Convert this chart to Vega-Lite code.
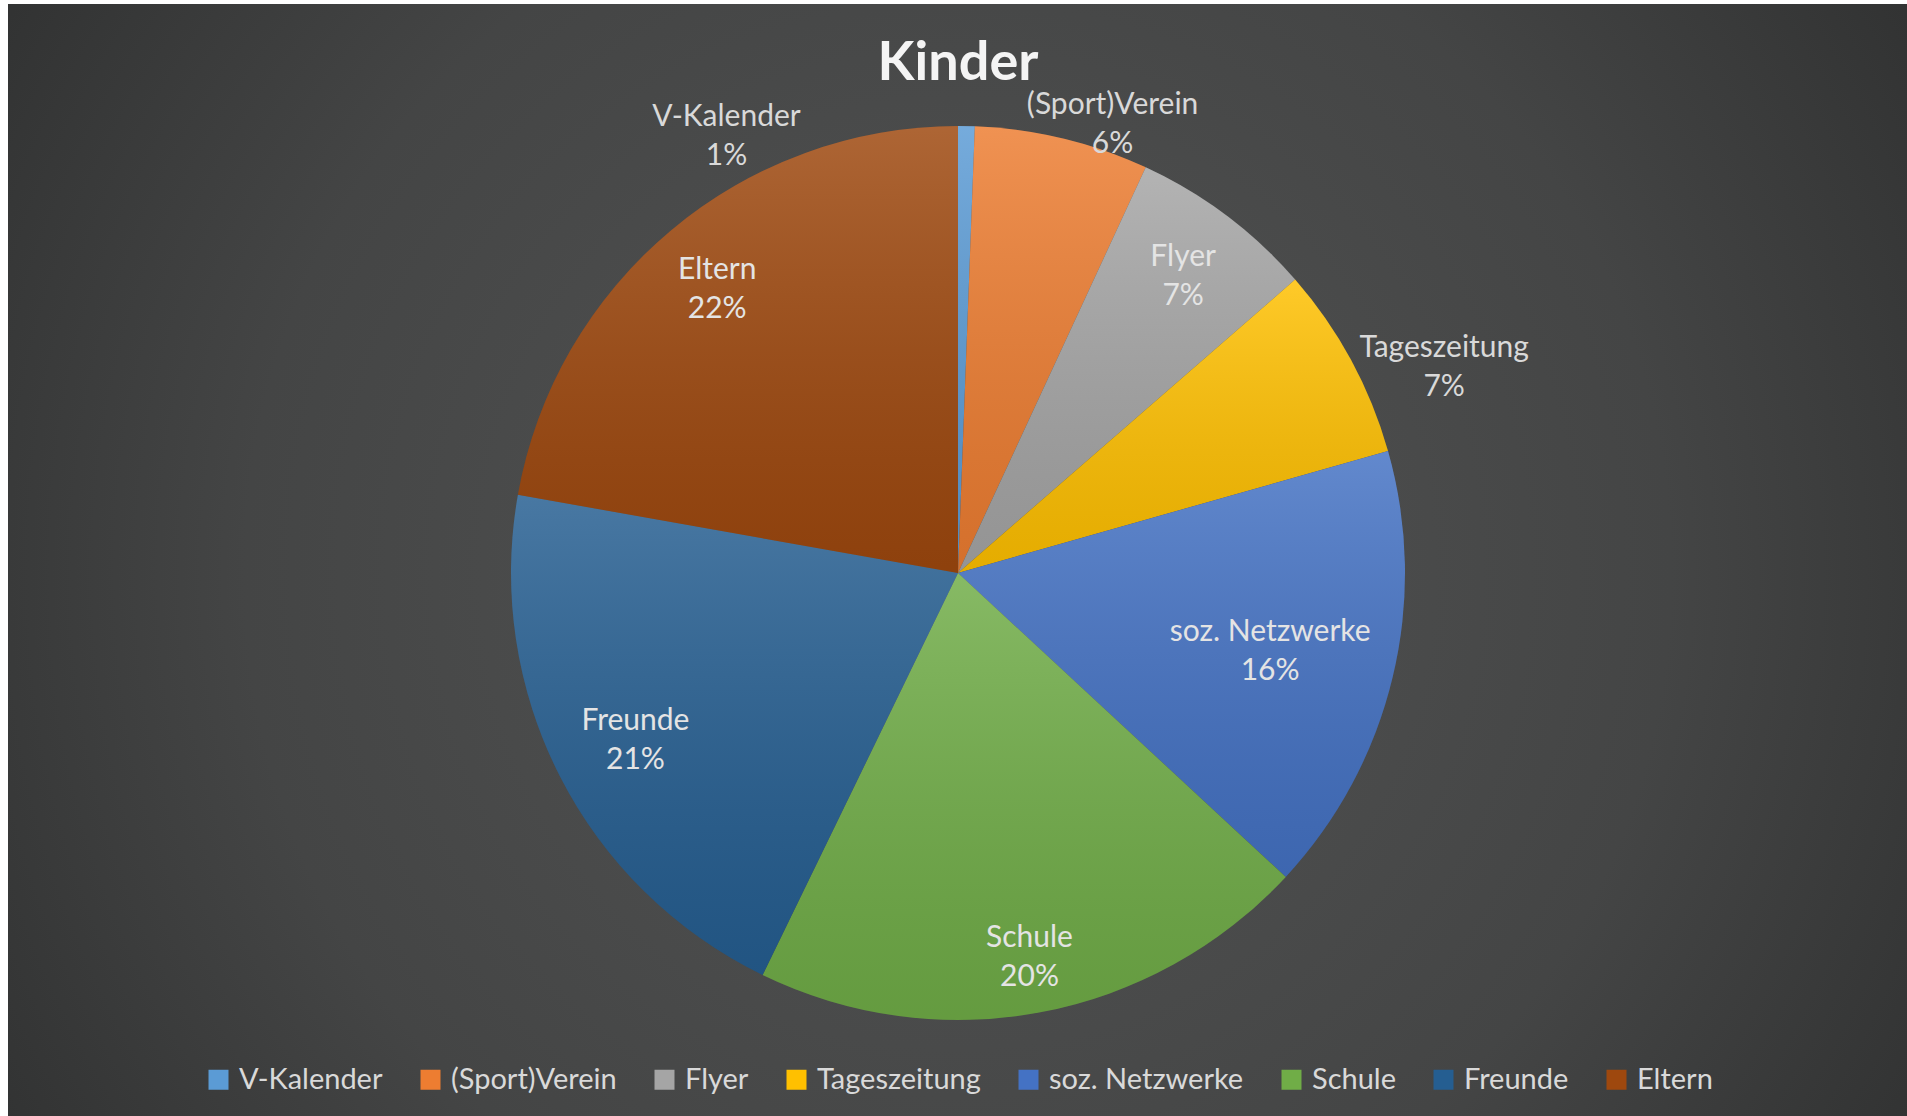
{
  "$schema": "https://vega.github.io/schema/vega-lite/v6.json",
  "width": 1900,
  "height": 1138,
  "autosize": "none",
  "padding": {"left": 8, "top": 4, "right": 0, "bottom": 0},
  "background": "#ffffff",
  "view": {
    "stroke": null,
    "fill": {"gradient": "radial", "x1": 0.5, "y1": 0.5, "r1": 0, "x2": 0.5, "y2": 0.5, "r2": 0.75,
      "stops": [{"offset": 0, "color": "#535454"}, {"offset": 0.5, "color": "#444545"}, {"offset": 1, "color": "#232424"}]}
  },
  "title": {"text": "Kinder", "font": "Lato", "fontSize": 54, "fontWeight": "bold", "color": "#f4f4f4", "offset": -87, "anchor": "middle"},
  "data": {"values": [
    {"i": 1, "cat": "V-Kalender", "v": 0.6},
    {"i": 2, "cat": "(Sport)Verein", "v": 6.3},
    {"i": 3, "cat": "Flyer", "v": 6.7},
    {"i": 4, "cat": "Tageszeitung", "v": 7.0},
    {"i": 5, "cat": "soz. Netzwerke", "v": 16.3},
    {"i": 6, "cat": "Schule", "v": 20.3},
    {"i": 7, "cat": "Freunde", "v": 20.6},
    {"i": 8, "cat": "Eltern", "v": 22.2}
  ]},
  "transform": [{"calculate": "datum.cat + '\\n' + format(datum.v / 100, '.0%')", "as": "label"}],
  "encoding": {
    "theta": {"field": "v", "type": "quantitative", "stack": true},
    "order": {"field": "i", "type": "quantitative"}
  },
  "layer": [
    {
      "mark": {"type": "arc", "outerRadius": 447},
      "encoding": {
        "color": {
          "field": "cat", "type": "nominal",
          "scale": {
            "domain": ["V-Kalender", "(Sport)Verein", "Flyer", "Tageszeitung", "soz. Netzwerke", "Schule", "Freunde", "Eltern"],
            "range": ["#5B9BD5", "#ED7D31", "#A5A5A5", "#FFC000", "#4472C4", "#70AD47", "#255E91", "#9E480E"]
          },
          "legend": {
            "title": null, "orient": "bottom", "direction": "horizontal", "offset": -77,
            "symbolType": "square", "symbolSize": 400, "symbolStrokeWidth": 0,
            "labelFont": "Lato", "labelFontSize": 29, "labelColor": "#d9d9d9",
            "labelOffset": 6, "columnPadding": 33, "padding": 0, "labelLimit": 300
          }
        }
      }
    },
    {
      "mark": {"type": "arc", "outerRadius": 447, "fill": {"gradient": "linear", "x1": 0, "y1": 0, "x2": 0, "y2": 1, "stops": [{"offset": 0, "color": "rgba(255,255,255,0.16)"}, {"offset": 1, "color": "rgba(0,0,0,0.10)"}]}}
    },
    {
      "mark": {"type": "text", "radius": 375, "dy": -16, "font": "Lato", "fontSize": 30, "color": "#e4e4e4", "lineBreak": "\n", "lineHeight": 39, "align": "center", "baseline": "middle"},
      "encoding": {"text": {"condition": {"test": "datum.cat == 'Eltern' || datum.cat == 'Flyer'", "field": "label"}, "value": ""}}
    },
    {
      "mark": {"type": "text", "radius": 362, "dy": -16, "font": "Lato", "fontSize": 30, "color": "#e4e4e4", "lineBreak": "\n", "lineHeight": 39, "align": "center", "baseline": "middle"},
      "encoding": {"text": {"condition": {"test": "datum.cat == 'Freunde'", "field": "label"}, "value": ""}}
    },
    {
      "mark": {"type": "text", "radius": 388, "dy": -16, "font": "Lato", "fontSize": 30, "color": "#e4e4e4", "lineBreak": "\n", "lineHeight": 39, "align": "center", "baseline": "middle"},
      "encoding": {"text": {"condition": {"test": "datum.cat == 'Schule'", "field": "label"}, "value": ""}}
    },
    {
      "mark": {"type": "text", "radius": 321, "dy": -16, "font": "Lato", "fontSize": 30, "color": "#e4e4e4", "lineBreak": "\n", "lineHeight": 39, "align": "center", "baseline": "middle"},
      "encoding": {"text": {"condition": {"test": "datum.cat == 'soz. Netzwerke'", "field": "label"}, "value": ""}}
    },
    {
      "mark": {"type": "text", "radius": 529, "dx": 21, "dy": 27, "font": "Lato", "fontSize": 30, "color": "#d9d9d9", "lineBreak": "\n", "lineHeight": 39, "align": "center", "baseline": "middle"},
      "encoding": {"text": {"condition": {"test": "datum.cat == 'Tageszeitung'", "field": "label"}, "value": ""}}
    },
    {
      "mark": {"type": "text", "radius": 478, "dx": 43, "dy": -3, "font": "Lato", "fontSize": 30, "color": "#d9d9d9", "lineBreak": "\n", "lineHeight": 39, "align": "center", "baseline": "middle"},
      "encoding": {"text": {"condition": {"test": "datum.cat == '(Sport)Verein'", "field": "label"}, "value": ""}}
    },
    {
      "mark": {"type": "text", "radius": 450, "dx": -240, "dy": -6, "font": "Lato", "fontSize": 30, "color": "#d9d9d9", "lineBreak": "\n", "lineHeight": 39, "align": "center", "baseline": "middle"},
      "encoding": {"text": {"condition": {"test": "datum.cat == 'V-Kalender'", "field": "label"}, "value": ""}}
    }
  ],
  "config": {
    "view": {"stroke": null},
    "legend": {"layout": {"bottom": {"anchor": "middle"}}}
  }
}
